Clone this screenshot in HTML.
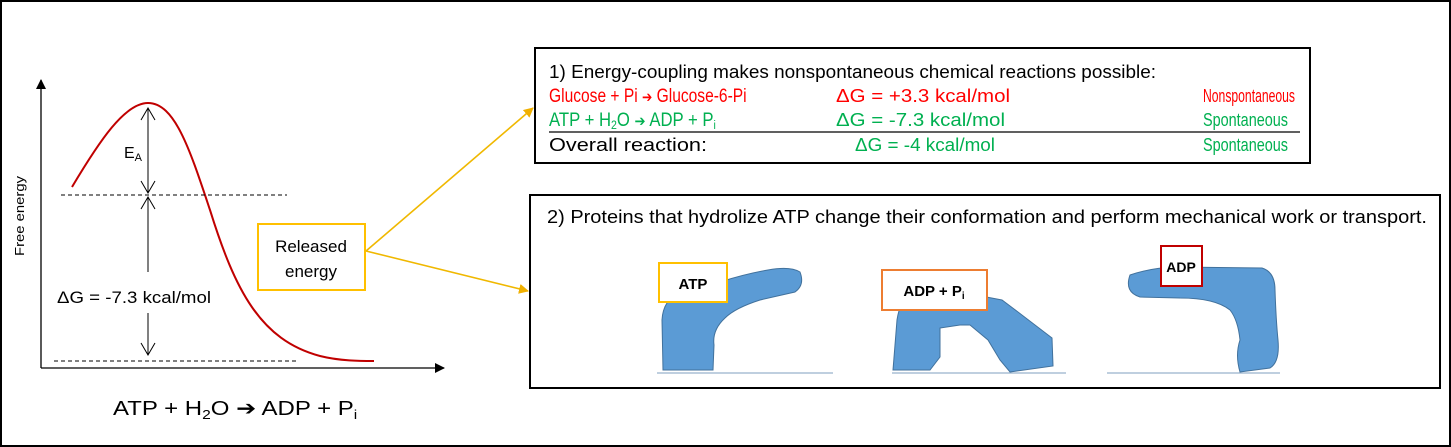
<!DOCTYPE html>
<html><head><style>body{margin:0;background:#fff}svg{display:block}text{font-family:"Liberation Sans",sans-serif}</style></head>
<body>
<svg width="1451" height="447" viewBox="0 0 1451 447" xmlns="http://www.w3.org/2000/svg">
<defs>
<marker id="ah" markerWidth="10" markerHeight="10" refX="9" refY="5" orient="auto" markerUnits="userSpaceOnUse"><path d="M0,0 L10,5 L0,10 z" fill="#000"/></marker>
<marker id="ah2" markerWidth="10" markerHeight="10" refX="9" refY="5" orient="auto" markerUnits="userSpaceOnUse"><path d="M0,0 L10,5 L0,10 z" fill="#f0b000"/></marker>
</defs>
<rect x="1" y="1" width="1449" height="445" fill="#fff" stroke="#000" stroke-width="2"/>
<line x1="41" y1="368" x2="41" y2="80" stroke="#000" stroke-width="1.3" marker-end="url(#ah)"/>
<line x1="41" y1="368" x2="444" y2="368" stroke="#000" stroke-width="1.3" marker-end="url(#ah)"/>
<text transform="translate(24,256) rotate(-90)" font-size="13" textLength="80" lengthAdjust="spacingAndGlyphs">Free energy</text>
<path d="M72,187 C100,140 125,103 148,103 C175,103 190,150 210,210 C235,290 260,340 320,356 C340,361 360,361 374,361" fill="none" stroke="#c00000" stroke-width="2"/>
<line x1="61" y1="195" x2="287" y2="195" stroke="#000" stroke-dasharray="4,3"/>
<line x1="54" y1="361" x2="297" y2="361" stroke="#000" stroke-dasharray="4,3"/>
<g stroke="#000" fill="none" stroke-width="1">
<line x1="148" y1="108" x2="148" y2="193"/><path d="M141,120 L148,108 L155,120"/><path d="M141,181 L148,193 L155,181"/>
<line x1="148" y1="197" x2="148" y2="272"/><path d="M141,209 L148,197 L155,209"/>
<line x1="148" y1="313" x2="148" y2="355"/><path d="M141,343 L148,355 L155,343"/>
</g>
<text x="124" y="158" font-size="16">E<tspan font-size="11" dy="3">A</tspan></text>
<text x="57" y="303" font-size="17" textLength="154" lengthAdjust="spacingAndGlyphs">ΔG = -7.3 kcal/mol</text>
<text transform="translate(113,415) scale(1.2,1)" font-size="20">ATP + H<tspan font-size="13" dy="4">2</tspan><tspan dy="-4">O </tspan><tspan font-family="DejaVu Sans" font-weight="bold">➔</tspan> ADP + P<tspan font-size="13" dy="4">i</tspan></text>
<rect x="258" y="224" width="107" height="66" fill="#fff" stroke="#ffc000" stroke-width="2"/>
<text x="311" y="252" font-size="17" text-anchor="middle">Released</text>
<text x="311" y="277" font-size="17" text-anchor="middle">energy</text>
<line x1="366" y1="251" x2="533" y2="108" stroke="#f0b800" stroke-width="1.6" marker-end="url(#ah2)"/>
<line x1="366" y1="251" x2="528" y2="291" stroke="#f0b800" stroke-width="1.6" marker-end="url(#ah2)"/>
<rect x="535" y="48" width="775" height="115" fill="#fff" stroke="#000" stroke-width="2"/>
<text x="549" y="78" font-size="18" textLength="607" lengthAdjust="spacingAndGlyphs">1) Energy-coupling makes nonspontaneous chemical reactions possible:</text>
<g fill="#ff0000" font-size="18">
<text transform="translate(549,102) scale(0.82,1)" font-size="19">Glucose + Pi <tspan font-family="DejaVu Sans" font-weight="bold" font-size="15">➔</tspan> Glucose-6-Pi</text>
<text x="836" y="102" textLength="174" lengthAdjust="spacingAndGlyphs">ΔG = +3.3 kcal/mol</text>
<text x="1203" y="102" textLength="92" lengthAdjust="spacingAndGlyphs">Nonspontaneous</text>
</g>
<g fill="#00b050" font-size="18">
<text transform="translate(549,126) scale(0.88,1)" font-size="19">ATP + H<tspan font-size="12" dy="3">2</tspan><tspan dy="-3">O </tspan><tspan font-family="DejaVu Sans" font-weight="bold" font-size="15">➔</tspan> ADP + P<tspan font-size="12" dy="3">i</tspan></text>
<text x="836" y="126" textLength="169" lengthAdjust="spacingAndGlyphs">ΔG = -7.3 kcal/mol</text>
<text x="1203" y="126" textLength="85" lengthAdjust="spacingAndGlyphs">Spontaneous</text>
<text x="855" y="151" textLength="140" lengthAdjust="spacingAndGlyphs">ΔG = -4 kcal/mol</text>
<text x="1203" y="151" textLength="85" lengthAdjust="spacingAndGlyphs">Spontaneous</text>
</g>
<line x1="549" y1="132" x2="1300" y2="132" stroke="#000" stroke-width="1.3"/>
<text x="549" y="151" font-size="18" textLength="158" lengthAdjust="spacingAndGlyphs">Overall reaction:</text>
<rect x="530" y="195" width="910" height="193" fill="#fff" stroke="#000" stroke-width="2"/>
<text x="547" y="223" font-size="18" textLength="880" lengthAdjust="spacingAndGlyphs">2) Proteins that hydrolize ATP change their conformation and perform mechanical work or transport.</text>
<g stroke="#7f9fbf" stroke-width="1"><line x1="657" y1="373" x2="833" y2="373"/><line x1="892" y1="373" x2="1066" y2="373"/><line x1="1107" y1="373" x2="1280" y2="373"/></g>
<g fill="#5b9bd5" stroke="#41719c" stroke-width="1">
<path d="M663,370 L662,320 Q663,300 680,292 L720,282 Q745,274 768,270 Q790,266 800,272 Q805,285 795,292 L760,300 Q735,308 725,318 Q712,330 714,345 L713,370 Z"/>
<path d="M893,370 L897,320 Q900,300 910,297 L960,292 L1002,300 L1018,312 L1052,338 L1053,366 L1010,372 L1000,360 L988,340 L970,325 L960,325 L940,328 L940,357 L930,370 Z"/>
<path d="M1130,275 Q1150,268 1175,267 L1262,268 Q1275,272 1275,290 Q1276,320 1278,340 Q1280,362 1270,368 L1240,372 Q1235,355 1240,340 Q1238,320 1230,310 Q1215,298 1180,298 L1140,297 Q1124,292 1130,275 Z"/>
</g>
<rect x="659" y="263" width="68" height="39" fill="#fff" stroke="#ffc000" stroke-width="2"/>
<text x="693" y="289" font-size="15" font-weight="bold" text-anchor="middle">ATP</text>
<rect x="882" y="270" width="105" height="40" fill="#fff" stroke="#ed7d31" stroke-width="2"/>
<text x="934" y="296" font-size="15" font-weight="bold" text-anchor="middle">ADP + P<tspan font-size="10" dy="3">i</tspan></text>
<rect x="1161" y="246" width="41" height="40" fill="#fff" stroke="#c00000" stroke-width="2"/>
<text x="1181" y="272" font-size="14" font-weight="bold" text-anchor="middle">ADP</text>
</svg>
</body></html>
